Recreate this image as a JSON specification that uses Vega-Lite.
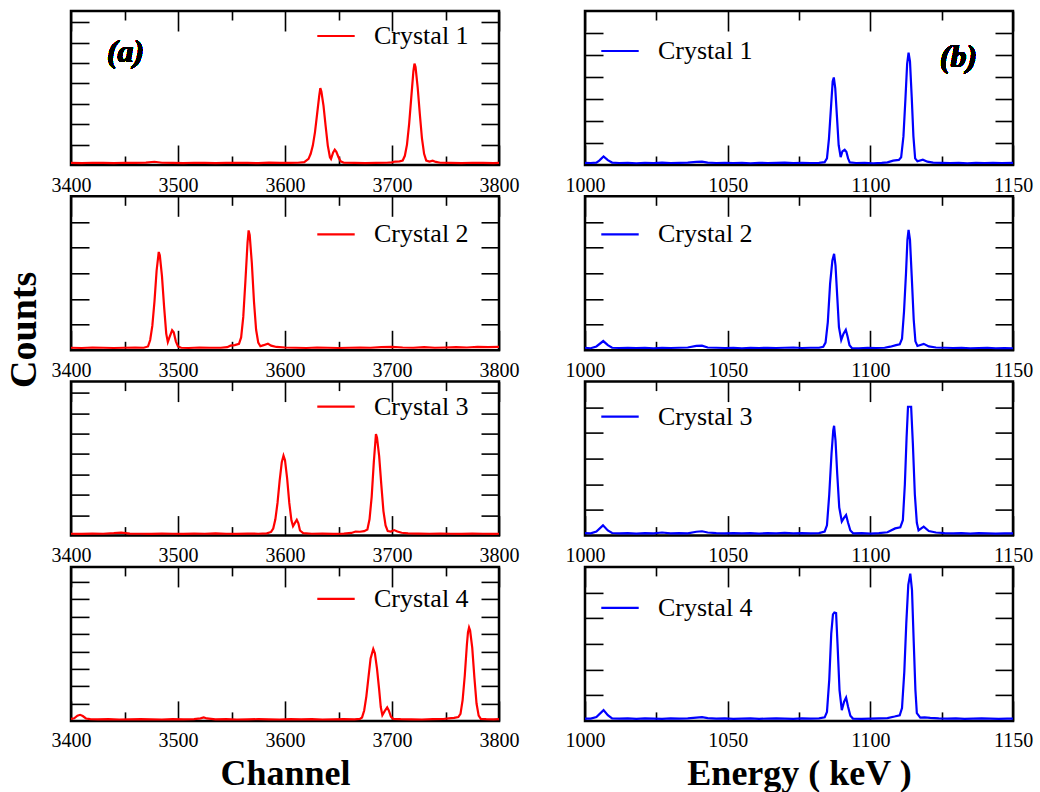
{
 "$schema": "https://vega.github.io/schema/vega-lite/v6.json",
 "background": "white",
 "padding": {"left": 3, "top": 8, "right": 5, "bottom": 5},
 "datasets": {
  "a1": [{"x":3400,"y":0.10},{"x":3410,"y":0.09},{"x":3420,"y":0.11},{"x":3430,"y":0.10},{"x":3440,"y":0.09},{"x":3450,"y":0.11},{"x":3460,"y":0.10},{"x":3470,"y":0.12},{"x":3478,"y":0.16},{"x":3485,"y":0.11},{"x":3495,"y":0.10},{"x":3505,"y":0.09},{"x":3515,"y":0.11},{"x":3525,"y":0.10},{"x":3535,"y":0.09},{"x":3545,"y":0.10},{"x":3555,"y":0.11},{"x":3565,"y":0.10},{"x":3575,"y":0.09},{"x":3585,"y":0.12},{"x":3595,"y":0.10},{"x":3605,"y":0.10},{"x":3612,"y":0.11},{"x":3618,"y":0.14},{"x":3622,"y":0.3},{"x":3624,"y":0.55},{"x":3626,"y":0.95},{"x":3628,"y":1.6},{"x":3630,"y":2.5},{"x":3632,"y":3.4},{"x":3633,"y":3.77},{"x":3634,"y":3.6},{"x":3636,"y":2.9},{"x":3638,"y":1.9},{"x":3640,"y":0.95},{"x":3642,"y":0.38},{"x":3643,"y":0.3},{"x":3645,"y":0.62},{"x":3646.5,"y":0.75},{"x":3648,"y":0.65},{"x":3650,"y":0.38},{"x":3652,"y":0.18},{"x":3655,"y":0.11},{"x":3665,"y":0.10},{"x":3675,"y":0.09},{"x":3685,"y":0.10},{"x":3695,"y":0.11},{"x":3700,"y":0.13},{"x":3703,"y":0.17},{"x":3707,"y":0.18},{"x":3710,"y":0.22},{"x":3712,"y":0.45},{"x":3714,"y":1.0},{"x":3716,"y":2.0},{"x":3718,"y":3.3},{"x":3720,"y":4.6},{"x":3721,"y":4.97},{"x":3722,"y":4.8},{"x":3724,"y":3.8},{"x":3726,"y":2.5},{"x":3728,"y":1.3},{"x":3730,"y":0.55},{"x":3732,"y":0.22},{"x":3735,"y":0.17},{"x":3738,"y":0.21},{"x":3741,"y":0.15},{"x":3745,"y":0.11},{"x":3755,"y":0.10},{"x":3765,"y":0.09},{"x":3775,"y":0.11},{"x":3785,"y":0.10},{"x":3795,"y":0.09},{"x":3800,"y":0.10}],
  "a2": [{"x":3400,"y":0.10},{"x":3410,"y":0.09},{"x":3420,"y":0.11},{"x":3430,"y":0.10},{"x":3440,"y":0.09},{"x":3450,"y":0.10},{"x":3460,"y":0.11},{"x":3468,"y":0.10},{"x":3472,"y":0.15},{"x":3474,"y":0.4},{"x":3476,"y":0.95},{"x":3478,"y":1.9},{"x":3480,"y":3.1},{"x":3482,"y":3.83},{"x":3483,"y":3.7},{"x":3485,"y":2.9},{"x":3487,"y":1.7},{"x":3489,"y":0.65},{"x":3490.5,"y":0.32},{"x":3492,"y":0.5},{"x":3494.5,"y":0.78},{"x":3496,"y":0.7},{"x":3498,"y":0.35},{"x":3500,"y":0.15},{"x":3503,"y":0.10},{"x":3510,"y":0.09},{"x":3520,"y":0.11},{"x":3530,"y":0.10},{"x":3540,"y":0.10},{"x":3546,"y":0.12},{"x":3549,"y":0.18},{"x":3553,"y":0.2},{"x":3557,"y":0.25},{"x":3559,"y":0.5},{"x":3561,"y":1.3},{"x":3563,"y":2.7},{"x":3565,"y":4.2},{"x":3566,"y":4.67},{"x":3567,"y":4.5},{"x":3569,"y":3.4},{"x":3571,"y":1.9},{"x":3573,"y":0.8},{"x":3575,"y":0.3},{"x":3577,"y":0.16},{"x":3580,"y":0.2},{"x":3584,"y":0.26},{"x":3587,"y":0.18},{"x":3592,"y":0.13},{"x":3600,"y":0.11},{"x":3610,"y":0.10},{"x":3620,"y":0.09},{"x":3630,"y":0.11},{"x":3640,"y":0.10},{"x":3650,"y":0.09},{"x":3660,"y":0.10},{"x":3670,"y":0.11},{"x":3680,"y":0.10},{"x":3690,"y":0.12},{"x":3700,"y":0.13},{"x":3710,"y":0.11},{"x":3720,"y":0.10},{"x":3730,"y":0.12},{"x":3740,"y":0.10},{"x":3750,"y":0.11},{"x":3760,"y":0.12},{"x":3770,"y":0.11},{"x":3780,"y":0.13},{"x":3790,"y":0.12},{"x":3800,"y":0.13}],
  "a3": [{"x":3400,"y":0.09},{"x":3410,"y":0.08},{"x":3420,"y":0.10},{"x":3430,"y":0.09},{"x":3440,"y":0.12},{"x":3447,"y":0.15},{"x":3455,"y":0.10},{"x":3465,"y":0.09},{"x":3475,"y":0.08},{"x":3485,"y":0.10},{"x":3495,"y":0.09},{"x":3505,"y":0.08},{"x":3515,"y":0.10},{"x":3525,"y":0.09},{"x":3535,"y":0.11},{"x":3545,"y":0.09},{"x":3555,"y":0.08},{"x":3565,"y":0.10},{"x":3575,"y":0.09},{"x":3583,"y":0.11},{"x":3587,"y":0.18},{"x":3589,"y":0.35},{"x":3591,"y":0.8},{"x":3593,"y":1.6},{"x":3595,"y":2.7},{"x":3597,"y":3.6},{"x":3598.6,"y":3.92},{"x":3600,"y":3.7},{"x":3602,"y":2.8},{"x":3604,"y":1.6},{"x":3606,"y":0.75},{"x":3607.5,"y":0.46},{"x":3609,"y":0.6},{"x":3611,"y":0.77},{"x":3612.5,"y":0.6},{"x":3614,"y":0.25},{"x":3617,"y":0.12},{"x":3625,"y":0.09},{"x":3635,"y":0.10},{"x":3645,"y":0.08},{"x":3655,"y":0.10},{"x":3662,"y":0.13},{"x":3666,"y":0.2},{"x":3670,"y":0.19},{"x":3674,"y":0.22},{"x":3677,"y":0.3},{"x":3679,"y":0.8},{"x":3681,"y":1.9},{"x":3683,"y":3.6},{"x":3685,"y":4.98},{"x":3686,"y":4.8},{"x":3688,"y":3.9},{"x":3690,"y":2.5},{"x":3692,"y":1.2},{"x":3694,"y":0.5},{"x":3696,"y":0.22},{"x":3699,"y":0.2},{"x":3702,"y":0.27},{"x":3705,"y":0.2},{"x":3709,"y":0.14},{"x":3715,"y":0.11},{"x":3725,"y":0.10},{"x":3735,"y":0.09},{"x":3745,"y":0.10},{"x":3755,"y":0.09},{"x":3765,"y":0.08},{"x":3775,"y":0.10},{"x":3785,"y":0.09},{"x":3795,"y":0.08},{"x":3800,"y":0.09}],
  "a4": [{"x":3400,"y":0.12},{"x":3403,"y":0.15},{"x":3406,"y":0.3},{"x":3408.5,"y":0.35},{"x":3411,"y":0.28},{"x":3414,"y":0.14},{"x":3418,"y":0.10},{"x":3425,"y":0.09},{"x":3435,"y":0.10},{"x":3445,"y":0.08},{"x":3455,"y":0.09},{"x":3465,"y":0.10},{"x":3475,"y":0.09},{"x":3485,"y":0.08},{"x":3495,"y":0.10},{"x":3505,"y":0.09},{"x":3515,"y":0.10},{"x":3521,"y":0.15},{"x":3524,"y":0.2},{"x":3527,"y":0.14},{"x":3535,"y":0.09},{"x":3545,"y":0.10},{"x":3555,"y":0.08},{"x":3565,"y":0.09},{"x":3575,"y":0.10},{"x":3585,"y":0.09},{"x":3595,"y":0.08},{"x":3605,"y":0.10},{"x":3615,"y":0.09},{"x":3625,"y":0.10},{"x":3635,"y":0.08},{"x":3645,"y":0.09},{"x":3655,"y":0.10},{"x":3665,"y":0.09},{"x":3670,"y":0.12},{"x":3672,"y":0.2},{"x":3674,"y":0.6},{"x":3676,"y":1.4},{"x":3678,"y":2.5},{"x":3680,"y":3.6},{"x":3682.5,"y":4.14},{"x":3684,"y":3.9},{"x":3686,"y":3.0},{"x":3688,"y":1.8},{"x":3689.5,"y":0.8},{"x":3691,"y":0.33},{"x":3693,"y":0.55},{"x":3695.5,"y":0.78},{"x":3697,"y":0.6},{"x":3699,"y":0.25},{"x":3701,"y":0.12},{"x":3708,"y":0.10},{"x":3718,"y":0.09},{"x":3728,"y":0.08},{"x":3738,"y":0.10},{"x":3748,"y":0.11},{"x":3753,"y":0.15},{"x":3758,"y":0.17},{"x":3762,"y":0.22},{"x":3764,"y":0.4},{"x":3766,"y":1.2},{"x":3768,"y":2.6},{"x":3770,"y":4.4},{"x":3771,"y":5.1},{"x":3772,"y":5.38},{"x":3773,"y":5.2},{"x":3775,"y":4.2},{"x":3777,"y":2.5},{"x":3779,"y":1.0},{"x":3781,"y":0.3},{"x":3783,"y":0.12},{"x":3788,"y":0.10},{"x":3795,"y":0.09},{"x":3800,"y":0.10}],
  "b1": [{"x":1000,"y":0.10},{"x":1002,"y":0.09},{"x":1004,"y":0.11},{"x":1005,"y":0.2},{"x":1006.5,"y":0.39},{"x":1008,"y":0.22},{"x":1009.5,"y":0.11},{"x":1012,"y":0.09},{"x":1015,"y":0.10},{"x":1018,"y":0.08},{"x":1021,"y":0.10},{"x":1024,"y":0.09},{"x":1027,"y":0.11},{"x":1030,"y":0.09},{"x":1033,"y":0.10},{"x":1036,"y":0.11},{"x":1039,"y":0.14},{"x":1041,"y":0.15},{"x":1043,"y":0.11},{"x":1046,"y":0.09},{"x":1049,"y":0.10},{"x":1052,"y":0.09},{"x":1055,"y":0.10},{"x":1058,"y":0.08},{"x":1061,"y":0.10},{"x":1064,"y":0.09},{"x":1067,"y":0.10},{"x":1070,"y":0.11},{"x":1073,"y":0.09},{"x":1076,"y":0.10},{"x":1079,"y":0.09},{"x":1082,"y":0.10},{"x":1084,"y":0.13},{"x":1084.8,"y":0.3},{"x":1085.5,"y":1.2},{"x":1086.3,"y":2.8},{"x":1086.8,"y":3.8},{"x":1087.2,"y":3.98},{"x":1087.7,"y":3.5},{"x":1088.3,"y":2.2},{"x":1088.9,"y":0.9},{"x":1089.6,"y":0.36},{"x":1090.2,"y":0.62},{"x":1091,"y":0.69},{"x":1091.6,"y":0.6},{"x":1092.2,"y":0.3},{"x":1092.8,"y":0.12},{"x":1095,"y":0.09},{"x":1098,"y":0.10},{"x":1101,"y":0.08},{"x":1104,"y":0.10},{"x":1106,"y":0.12},{"x":1108,"y":0.2},{"x":1110,"y":0.23},{"x":1110.8,"y":0.35},{"x":1111.6,"y":1.3},{"x":1112.3,"y":3.0},{"x":1112.9,"y":4.6},{"x":1113.4,"y":5.11},{"x":1113.9,"y":4.7},{"x":1114.5,"y":3.1},{"x":1115.1,"y":1.3},{"x":1115.7,"y":0.3},{"x":1116.5,"y":0.17},{"x":1118.4,"y":0.24},{"x":1120,"y":0.15},{"x":1122,"y":0.11},{"x":1125,"y":0.10},{"x":1128,"y":0.09},{"x":1131,"y":0.10},{"x":1134,"y":0.08},{"x":1137,"y":0.10},{"x":1140,"y":0.09},{"x":1143,"y":0.10},{"x":1146,"y":0.09},{"x":1150,"y":0.10}],
  "b2": [{"x":1000,"y":0.10},{"x":1002,"y":0.08},{"x":1004,"y":0.15},{"x":1006.4,"y":0.36},{"x":1008,"y":0.2},{"x":1009.5,"y":0.10},{"x":1012,"y":0.09},{"x":1015,"y":0.10},{"x":1018,"y":0.09},{"x":1021,"y":0.10},{"x":1024,"y":0.08},{"x":1027,"y":0.10},{"x":1030,"y":0.09},{"x":1033,"y":0.10},{"x":1036,"y":0.11},{"x":1039,"y":0.17},{"x":1041,"y":0.18},{"x":1043,"y":0.11},{"x":1046,"y":0.10},{"x":1049,"y":0.09},{"x":1052,"y":0.10},{"x":1055,"y":0.08},{"x":1058,"y":0.10},{"x":1061,"y":0.09},{"x":1064,"y":0.10},{"x":1067,"y":0.09},{"x":1070,"y":0.10},{"x":1073,"y":0.11},{"x":1076,"y":0.09},{"x":1079,"y":0.10},{"x":1082,"y":0.10},{"x":1083.5,"y":0.14},{"x":1084.3,"y":0.3},{"x":1085.1,"y":1.1},{"x":1085.9,"y":2.6},{"x":1086.7,"y":3.5},{"x":1087.3,"y":3.76},{"x":1087.8,"y":3.3},{"x":1088.4,"y":2.1},{"x":1089,"y":0.9},{"x":1089.8,"y":0.4},{"x":1090.6,"y":0.65},{"x":1091.4,"y":0.8},{"x":1092,"y":0.55},{"x":1092.7,"y":0.2},{"x":1093.5,"y":0.09},{"x":1096,"y":0.08},{"x":1099,"y":0.10},{"x":1102,"y":0.09},{"x":1105,"y":0.10},{"x":1107,"y":0.14},{"x":1109,"y":0.2},{"x":1110.3,"y":0.23},{"x":1111.1,"y":0.45},{"x":1111.8,"y":1.5},{"x":1112.5,"y":3.0},{"x":1113,"y":4.3},{"x":1113.4,"y":4.69},{"x":1113.9,"y":4.3},{"x":1114.5,"y":2.9},{"x":1115.2,"y":1.2},{"x":1115.8,"y":0.35},{"x":1116.5,"y":0.17},{"x":1118.7,"y":0.25},{"x":1120.5,"y":0.15},{"x":1123,"y":0.11},{"x":1126,"y":0.10},{"x":1129,"y":0.09},{"x":1132,"y":0.10},{"x":1135,"y":0.08},{"x":1138,"y":0.09},{"x":1141,"y":0.10},{"x":1144,"y":0.08},{"x":1147,"y":0.09},{"x":1150,"y":0.08}],
  "b3": [{"x":1000,"y":0.10},{"x":1002,"y":0.09},{"x":1004,"y":0.16},{"x":1006.3,"y":0.4},{"x":1008,"y":0.2},{"x":1009.5,"y":0.10},{"x":1012,"y":0.09},{"x":1015,"y":0.10},{"x":1018,"y":0.08},{"x":1021,"y":0.10},{"x":1024,"y":0.09},{"x":1027,"y":0.12},{"x":1030,"y":0.09},{"x":1033,"y":0.10},{"x":1036,"y":0.09},{"x":1039,"y":0.15},{"x":1041,"y":0.17},{"x":1043,"y":0.12},{"x":1046,"y":0.10},{"x":1049,"y":0.09},{"x":1052,"y":0.10},{"x":1055,"y":0.09},{"x":1058,"y":0.10},{"x":1061,"y":0.08},{"x":1064,"y":0.10},{"x":1067,"y":0.09},{"x":1070,"y":0.11},{"x":1073,"y":0.09},{"x":1076,"y":0.10},{"x":1079,"y":0.09},{"x":1082,"y":0.10},{"x":1084,"y":0.16},{"x":1084.8,"y":0.4},{"x":1085.6,"y":1.6},{"x":1086.4,"y":3.2},{"x":1087,"y":4.1},{"x":1087.3,"y":4.28},{"x":1087.8,"y":3.7},{"x":1088.4,"y":2.4},{"x":1089.1,"y":1.1},{"x":1090,"y":0.55},{"x":1090.7,"y":0.68},{"x":1091.5,"y":0.8},{"x":1092.2,"y":0.5},{"x":1093,"y":0.2},{"x":1094,"y":0.09},{"x":1097,"y":0.10},{"x":1100,"y":0.08},{"x":1103,"y":0.10},{"x":1106,"y":0.13},{"x":1108.7,"y":0.28},{"x":1110.5,"y":0.32},{"x":1111.4,"y":0.6},{"x":1112.1,"y":2.0},{"x":1112.7,"y":3.8},{"x":1113.2,"y":5.02},{"x":1114.3,"y":5.02},{"x":1114.9,"y":3.6},{"x":1115.6,"y":1.6},{"x":1116.3,"y":0.5},{"x":1116.9,"y":0.2},{"x":1118.7,"y":0.35},{"x":1120.5,"y":0.18},{"x":1123,"y":0.12},{"x":1126,"y":0.10},{"x":1129,"y":0.09},{"x":1132,"y":0.10},{"x":1135,"y":0.08},{"x":1138,"y":0.10},{"x":1141,"y":0.09},{"x":1144,"y":0.08},{"x":1147,"y":0.09},{"x":1150,"y":0.09}],
  "b4": [{"x":1000,"y":0.09},{"x":1002,"y":0.09},{"x":1004,"y":0.15},{"x":1006.5,"y":0.42},{"x":1008,"y":0.22},{"x":1009.5,"y":0.10},{"x":1012,"y":0.09},{"x":1015,"y":0.10},{"x":1018,"y":0.08},{"x":1021,"y":0.10},{"x":1024,"y":0.09},{"x":1027,"y":0.08},{"x":1030,"y":0.10},{"x":1033,"y":0.09},{"x":1036,"y":0.10},{"x":1039,"y":0.13},{"x":1041,"y":0.15},{"x":1043,"y":0.11},{"x":1046,"y":0.09},{"x":1049,"y":0.10},{"x":1052,"y":0.08},{"x":1055,"y":0.09},{"x":1058,"y":0.10},{"x":1061,"y":0.08},{"x":1064,"y":0.09},{"x":1067,"y":0.10},{"x":1070,"y":0.09},{"x":1073,"y":0.08},{"x":1076,"y":0.10},{"x":1079,"y":0.09},{"x":1082,"y":0.10},{"x":1084,"y":0.14},{"x":1084.8,"y":0.35},{"x":1085.6,"y":1.6},{"x":1086.3,"y":3.4},{"x":1086.9,"y":4.15},{"x":1087.4,"y":4.22},{"x":1088,"y":4.2},{"x":1088.5,"y":3.0},{"x":1089.2,"y":1.2},{"x":1090,"y":0.42},{"x":1090.8,"y":0.75},{"x":1091.5,"y":0.91},{"x":1092.2,"y":0.55},{"x":1093,"y":0.2},{"x":1093.9,"y":0.09},{"x":1097,"y":0.08},{"x":1100,"y":0.09},{"x":1103,"y":0.10},{"x":1106,"y":0.11},{"x":1108.5,"y":0.17},{"x":1110.3,"y":0.22},{"x":1111.1,"y":0.5},{"x":1111.9,"y":1.9},{"x":1112.6,"y":3.8},{"x":1113.3,"y":5.3},{"x":1114,"y":5.74},{"x":1114.6,"y":5.1},{"x":1115.2,"y":3.1},{"x":1115.8,"y":1.2},{"x":1116.3,"y":0.3},{"x":1117.5,"y":0.13},{"x":1119,"y":0.14},{"x":1121,"y":0.12},{"x":1124,"y":0.10},{"x":1127,"y":0.09},{"x":1130,"y":0.10},{"x":1133,"y":0.08},{"x":1136,"y":0.09},{"x":1139,"y":0.10},{"x":1142,"y":0.09},{"x":1145,"y":0.08},{"x":1148,"y":0.09},{"x":1150,"y":0.09}]
 },
 "columns": 2,
 "spacing": {"row": 31.3, "column": 86},
 "bounds": "flush",
 "resolve": {"scale": {"color": "independent"}, "legend": {"color": "independent"}},
 "concat": [
  {
   "width": 428, "height": 154, "data": {"name": "a1"},
   "layer": [
    {"mark": {"type": "line", "strokeWidth": 2.2},
     "encoding": {
      "x": {"field": "x", "type": "quantitative", "scale": {"domain": [3400, 3800], "nice": false, "zero": false}, "axis": {"orient": "bottom", "values": [3400, 3500, 3600, 3700, 3800], "format": "d", "labelFont": "Liberation Serif", "labelFontSize": 20, "labelFlush": false, "ticks": false, "labelPadding": 10, "title": null}},
      "y": {"field": "y", "type": "quantitative", "scale": {"domain": [0, 7.55], "nice": false, "zero": false}, "axis": {"orient": "left", "values": [1, 2, 3, 4, 5, 6, 7], "labels": false, "tickSize": -18, "title": null}},
      "color": {"datum": "Crystal 1", "scale": {"range": ["#ff0000"]}, "legend": {"orient": "none", "legendX": 245, "legendY": 5, "title": null}}
     }},
    {"mark": {"type": "line", "strokeOpacity": 0},
     "encoding": {
      "x": {"field": "x", "type": "quantitative", "axis": {"orient": "bottom", "values": [3400, 3450, 3500, 3550, 3600, 3650, 3700, 3750, 3800], "labels": false, "tickSize": {"condition": {"test": "datum.value % 100 === 0", "value": -20}, "value": -9}, "title": null}},
      "y": {"field": "y", "type": "quantitative", "axis": {"orient": "right", "values": [1, 2, 3, 4, 5, 6, 7], "labels": false, "tickSize": -18, "title": null}}
     }},
    {"mark": {"type": "line", "strokeOpacity": 0},
     "encoding": {
      "x": {"field": "x", "type": "quantitative", "axis": {"orient": "top", "values": [3400, 3450, 3500, 3550, 3600, 3650, 3700, 3750, 3800], "labels": false, "tickSize": {"condition": {"test": "datum.value % 100 === 0", "value": -20}, "value": -9}, "title": null}},
      "y": {"field": "y", "type": "quantitative", "axis": null}
     }},
    {"mark": {"type": "text", "fontSize": 32, "fontWeight": "bold", "fontStyle": "italic", "font": "Liberation Serif", "align": "center", "baseline": "alphabetic", "color": "#000000"},
     "encoding": {
      "x": {"datum": 3451, "type": "quantitative", "axis": null},
      "y": {"datum": 5.05, "type": "quantitative", "axis": null},
      "text": {"value": "(a)"}
     }}
   ],
   "resolve": {"axis": {"x": "independent", "y": "independent"}}
  },
  {
   "width": 428, "height": 154, "data": {"name": "b1"},
   "layer": [
    {"mark": {"type": "line", "strokeWidth": 2.2},
     "encoding": {
      "x": {"field": "x", "type": "quantitative", "scale": {"domain": [1000, 1150], "nice": false, "zero": false}, "axis": {"orient": "bottom", "values": [1000, 1050, 1100, 1150], "format": "d", "labelFont": "Liberation Serif", "labelFontSize": 20, "labelFlush": false, "ticks": false, "labelPadding": 10, "title": null}},
      "y": {"field": "y", "type": "quantitative", "scale": {"domain": [0, 7], "nice": false, "zero": false}, "axis": {"orient": "left", "values": [1, 2, 3, 4, 5, 6], "labels": false, "tickSize": -18, "title": null}},
      "color": {"datum": "Crystal 1", "scale": {"range": ["#0000ff"]}, "legend": {"orient": "none", "legendX": 15, "legendY": 20, "title": null}}
     }},
    {"mark": {"type": "line", "strokeOpacity": 0},
     "encoding": {
      "x": {"field": "x", "type": "quantitative", "axis": {"orient": "bottom", "values": [1000, 1025, 1050, 1075, 1100, 1125, 1150], "labels": false, "tickSize": {"condition": {"test": "datum.value % 50 === 0", "value": -20}, "value": -9}, "title": null}},
      "y": {"field": "y", "type": "quantitative", "axis": {"orient": "right", "values": [1, 2, 3, 4, 5, 6], "labels": false, "tickSize": -18, "title": null}}
     }},
    {"mark": {"type": "line", "strokeOpacity": 0},
     "encoding": {
      "x": {"field": "x", "type": "quantitative", "axis": {"orient": "top", "values": [1000, 1025, 1050, 1075, 1100, 1125, 1150], "labels": false, "tickSize": {"condition": {"test": "datum.value % 50 === 0", "value": -20}, "value": -9}, "title": null}},
      "y": {"field": "y", "type": "quantitative", "axis": null}
     }},
    {"mark": {"type": "text", "fontSize": 32, "fontWeight": "bold", "fontStyle": "italic", "font": "Liberation Serif", "align": "center", "baseline": "alphabetic", "color": "#000000"},
     "encoding": {
      "x": {"datum": 1130.9, "type": "quantitative", "axis": null},
      "y": {"datum": 4.45, "type": "quantitative", "axis": null},
      "text": {"value": "(b)"}
     }}
   ],
   "resolve": {"axis": {"x": "independent", "y": "independent"}}
  },
  {
   "width": 428, "height": 154, "data": {"name": "a2"},
   "layer": [
    {"mark": {"type": "line", "strokeWidth": 2.2},
     "encoding": {
      "x": {"field": "x", "type": "quantitative", "scale": {"domain": [3400, 3800], "nice": false, "zero": false}, "axis": {"orient": "bottom", "values": [3400, 3500, 3600, 3700, 3800], "format": "d", "labelFont": "Liberation Serif", "labelFontSize": 20, "labelFlush": false, "ticks": false, "labelPadding": 10, "title": null}},
      "y": {"field": "y", "type": "quantitative", "scale": {"domain": [0, 6], "nice": false, "zero": false}, "axis": {"orient": "left", "values": [1, 2, 3, 4, 5], "labels": false, "tickSize": -18, "title": "Counts", "titleFont": "Liberation Serif", "titleFontSize": 38, "titleFontWeight": "bold", "titleAngle": 270, "titleBaseline": "alphabetic", "titleAlign": "center", "titleX": -36, "titleY": 133}},
      "color": {"datum": "Crystal 2", "scale": {"range": ["#ff0000"]}, "legend": {"orient": "none", "legendX": 245, "legendY": 18, "title": null}}
     }},
    {"mark": {"type": "line", "strokeOpacity": 0},
     "encoding": {
      "x": {"field": "x", "type": "quantitative", "axis": {"orient": "bottom", "values": [3400, 3450, 3500, 3550, 3600, 3650, 3700, 3750, 3800], "labels": false, "tickSize": {"condition": {"test": "datum.value % 100 === 0", "value": -20}, "value": -9}, "title": null}},
      "y": {"field": "y", "type": "quantitative", "axis": {"orient": "right", "values": [1, 2, 3, 4, 5], "labels": false, "tickSize": -18, "title": null}}
     }},
    {"mark": {"type": "line", "strokeOpacity": 0},
     "encoding": {
      "x": {"field": "x", "type": "quantitative", "axis": {"orient": "top", "values": [3400, 3450, 3500, 3550, 3600, 3650, 3700, 3750, 3800], "labels": false, "tickSize": {"condition": {"test": "datum.value % 100 === 0", "value": -20}, "value": -9}, "title": null}},
      "y": {"field": "y", "type": "quantitative", "axis": null}
     }}
   ],
   "resolve": {"axis": {"x": "independent", "y": "independent"}}
  },
  {
   "width": 428, "height": 154, "data": {"name": "b2"},
   "layer": [
    {"mark": {"type": "line", "strokeWidth": 2.2},
     "encoding": {
      "x": {"field": "x", "type": "quantitative", "scale": {"domain": [1000, 1150], "nice": false, "zero": false}, "axis": {"orient": "bottom", "values": [1000, 1050, 1100, 1150], "format": "d", "labelFont": "Liberation Serif", "labelFontSize": 20, "labelFlush": false, "ticks": false, "labelPadding": 10, "title": null}},
      "y": {"field": "y", "type": "quantitative", "scale": {"domain": [0, 6], "nice": false, "zero": false}, "axis": {"orient": "left", "values": [1, 2, 3, 4, 5], "labels": false, "tickSize": -18, "title": null}},
      "color": {"datum": "Crystal 2", "scale": {"range": ["#0000ff"]}, "legend": {"orient": "none", "legendX": 15, "legendY": 18, "title": null}}
     }},
    {"mark": {"type": "line", "strokeOpacity": 0},
     "encoding": {
      "x": {"field": "x", "type": "quantitative", "axis": {"orient": "bottom", "values": [1000, 1025, 1050, 1075, 1100, 1125, 1150], "labels": false, "tickSize": {"condition": {"test": "datum.value % 50 === 0", "value": -20}, "value": -9}, "title": null}},
      "y": {"field": "y", "type": "quantitative", "axis": {"orient": "right", "values": [1, 2, 3, 4, 5], "labels": false, "tickSize": -18, "title": null}}
     }},
    {"mark": {"type": "line", "strokeOpacity": 0},
     "encoding": {
      "x": {"field": "x", "type": "quantitative", "axis": {"orient": "top", "values": [1000, 1025, 1050, 1075, 1100, 1125, 1150], "labels": false, "tickSize": {"condition": {"test": "datum.value % 50 === 0", "value": -20}, "value": -9}, "title": null}},
      "y": {"field": "y", "type": "quantitative", "axis": null}
     }}
   ],
   "resolve": {"axis": {"x": "independent", "y": "independent"}}
  },
  {
   "width": 428, "height": 154, "data": {"name": "a3"},
   "layer": [
    {"mark": {"type": "line", "strokeWidth": 2.2},
     "encoding": {
      "x": {"field": "x", "type": "quantitative", "scale": {"domain": [3400, 3800], "nice": false, "zero": false}, "axis": {"orient": "bottom", "values": [3400, 3500, 3600, 3700, 3800], "format": "d", "labelFont": "Liberation Serif", "labelFontSize": 20, "labelFlush": false, "ticks": false, "labelPadding": 10, "title": null}},
      "y": {"field": "y", "type": "quantitative", "scale": {"domain": [0, 7.55], "nice": false, "zero": false}, "axis": {"orient": "left", "values": [1, 2, 3, 4, 5, 6, 7], "labels": false, "tickSize": -18, "title": null}},
      "color": {"datum": "Crystal 3", "scale": {"range": ["#ff0000"]}, "legend": {"orient": "none", "legendX": 245, "legendY": 5, "title": null}}
     }},
    {"mark": {"type": "line", "strokeOpacity": 0},
     "encoding": {
      "x": {"field": "x", "type": "quantitative", "axis": {"orient": "bottom", "values": [3400, 3450, 3500, 3550, 3600, 3650, 3700, 3750, 3800], "labels": false, "tickSize": {"condition": {"test": "datum.value % 100 === 0", "value": -20}, "value": -9}, "title": null}},
      "y": {"field": "y", "type": "quantitative", "axis": {"orient": "right", "values": [1, 2, 3, 4, 5, 6, 7], "labels": false, "tickSize": -18, "title": null}}
     }},
    {"mark": {"type": "line", "strokeOpacity": 0},
     "encoding": {
      "x": {"field": "x", "type": "quantitative", "axis": {"orient": "top", "values": [3400, 3450, 3500, 3550, 3600, 3650, 3700, 3750, 3800], "labels": false, "tickSize": {"condition": {"test": "datum.value % 100 === 0", "value": -20}, "value": -9}, "title": null}},
      "y": {"field": "y", "type": "quantitative", "axis": null}
     }}
   ],
   "resolve": {"axis": {"x": "independent", "y": "independent"}}
  },
  {
   "width": 428, "height": 154, "data": {"name": "b3"},
   "layer": [
    {"mark": {"type": "line", "strokeWidth": 2.2},
     "encoding": {
      "x": {"field": "x", "type": "quantitative", "scale": {"domain": [1000, 1150], "nice": false, "zero": false}, "axis": {"orient": "bottom", "values": [1000, 1050, 1100, 1150], "format": "d", "labelFont": "Liberation Serif", "labelFontSize": 20, "labelFlush": false, "ticks": false, "labelPadding": 10, "title": null}},
      "y": {"field": "y", "type": "quantitative", "scale": {"domain": [0, 6], "nice": false, "zero": false}, "axis": {"orient": "left", "values": [1, 2, 3, 4, 5], "labels": false, "tickSize": -18, "title": null}},
      "color": {"datum": "Crystal 3", "scale": {"range": ["#0000ff"]}, "legend": {"orient": "none", "legendX": 15, "legendY": 15, "title": null}}
     }},
    {"mark": {"type": "line", "strokeOpacity": 0},
     "encoding": {
      "x": {"field": "x", "type": "quantitative", "axis": {"orient": "bottom", "values": [1000, 1025, 1050, 1075, 1100, 1125, 1150], "labels": false, "tickSize": {"condition": {"test": "datum.value % 50 === 0", "value": -20}, "value": -9}, "title": null}},
      "y": {"field": "y", "type": "quantitative", "axis": {"orient": "right", "values": [1, 2, 3, 4, 5], "labels": false, "tickSize": -18, "title": null}}
     }},
    {"mark": {"type": "line", "strokeOpacity": 0},
     "encoding": {
      "x": {"field": "x", "type": "quantitative", "axis": {"orient": "top", "values": [1000, 1025, 1050, 1075, 1100, 1125, 1150], "labels": false, "tickSize": {"condition": {"test": "datum.value % 50 === 0", "value": -20}, "value": -9}, "title": null}},
      "y": {"field": "y", "type": "quantitative", "axis": null}
     }}
   ],
   "resolve": {"axis": {"x": "independent", "y": "independent"}}
  },
  {
   "width": 428, "height": 154, "data": {"name": "a4"},
   "layer": [
    {"mark": {"type": "line", "strokeWidth": 2.2},
     "encoding": {
      "x": {"field": "x", "type": "quantitative", "scale": {"domain": [3400, 3800], "nice": false, "zero": false}, "axis": {"orient": "bottom", "values": [3400, 3500, 3600, 3700, 3800], "format": "d", "labelFont": "Liberation Serif", "labelFontSize": 20, "labelFlush": false, "ticks": false, "labelPadding": 10, "title": "Channel", "titleFont": "Liberation Serif", "titleFontSize": 36, "titleFontWeight": "bold", "titleBaseline": "alphabetic", "titleY": 64}},
      "y": {"field": "y", "type": "quantitative", "scale": {"domain": [0, 8.87], "nice": false, "zero": false}, "axis": {"orient": "left", "values": [1, 2, 3, 4, 5, 6, 7, 8], "labels": false, "tickSize": -18, "title": null}},
      "color": {"datum": "Crystal 4", "scale": {"range": ["#ff0000"]}, "legend": {"orient": "none", "legendX": 245, "legendY": 12, "title": null}}
     }},
    {"mark": {"type": "line", "strokeOpacity": 0},
     "encoding": {
      "x": {"field": "x", "type": "quantitative", "axis": {"orient": "bottom", "values": [3400, 3450, 3500, 3550, 3600, 3650, 3700, 3750, 3800], "labels": false, "tickSize": {"condition": {"test": "datum.value % 100 === 0", "value": -20}, "value": -9}, "title": null}},
      "y": {"field": "y", "type": "quantitative", "axis": {"orient": "right", "values": [1, 2, 3, 4, 5, 6, 7, 8], "labels": false, "tickSize": -18, "title": null}}
     }},
    {"mark": {"type": "line", "strokeOpacity": 0},
     "encoding": {
      "x": {"field": "x", "type": "quantitative", "axis": {"orient": "top", "values": [3400, 3450, 3500, 3550, 3600, 3650, 3700, 3750, 3800], "labels": false, "tickSize": {"condition": {"test": "datum.value % 100 === 0", "value": -20}, "value": -9}, "title": null}},
      "y": {"field": "y", "type": "quantitative", "axis": null}
     }}
   ],
   "resolve": {"axis": {"x": "independent", "y": "independent"}}
  },
  {
   "width": 428, "height": 154, "data": {"name": "b4"},
   "layer": [
    {"mark": {"type": "line", "strokeWidth": 2.2},
     "encoding": {
      "x": {"field": "x", "type": "quantitative", "scale": {"domain": [1000, 1150], "nice": false, "zero": false}, "axis": {"orient": "bottom", "values": [1000, 1050, 1100, 1150], "format": "d", "labelFont": "Liberation Serif", "labelFontSize": 20, "labelFlush": false, "ticks": false, "labelPadding": 10, "title": "Energy ( keV )", "titleFont": "Liberation Serif", "titleFontSize": 36, "titleFontWeight": "bold", "titleBaseline": "alphabetic", "titleY": 64}},
      "y": {"field": "y", "type": "quantitative", "scale": {"domain": [0, 6], "nice": false, "zero": false}, "axis": {"orient": "left", "values": [1, 2, 3, 4, 5], "labels": false, "tickSize": -18, "title": null}},
      "color": {"datum": "Crystal 4", "scale": {"range": ["#0000ff"]}, "legend": {"orient": "none", "legendX": 15, "legendY": 21, "title": null}}
     }},
    {"mark": {"type": "line", "strokeOpacity": 0},
     "encoding": {
      "x": {"field": "x", "type": "quantitative", "axis": {"orient": "bottom", "values": [1000, 1025, 1050, 1075, 1100, 1125, 1150], "labels": false, "tickSize": {"condition": {"test": "datum.value % 50 === 0", "value": -20}, "value": -9}, "title": null}},
      "y": {"field": "y", "type": "quantitative", "axis": {"orient": "right", "values": [1, 2, 3, 4, 5], "labels": false, "tickSize": -18, "title": null}}
     }},
    {"mark": {"type": "line", "strokeOpacity": 0},
     "encoding": {
      "x": {"field": "x", "type": "quantitative", "axis": {"orient": "top", "values": [1000, 1025, 1050, 1075, 1100, 1125, 1150], "labels": false, "tickSize": {"condition": {"test": "datum.value % 50 === 0", "value": -20}, "value": -9}, "title": null}},
      "y": {"field": "y", "type": "quantitative", "axis": null}
     }}
   ],
   "resolve": {"axis": {"x": "independent", "y": "independent"}}
  }
 ],
 "config": {
  "font": "Liberation Serif",
  "view": {"stroke": "#000000", "strokeWidth": 2.5},
  "axis": {"domain": false, "grid": false, "tickColor": "#000000", "tickWidth": 1.6, "labelFont": "Liberation Serif", "labelFontSize": 20, "labelColor": "#000000", "titleFont": "Liberation Serif", "titleColor": "#000000"},
  "legend": {"symbolType": "stroke", "symbolSize": 1400, "symbolStrokeWidth": 2.2, "labelFont": "Liberation Serif", "labelFontSize": 26, "labelColor": "#000000", "labelOffset": 18, "padding": 0, "labelLimit": 400}
 }
}
